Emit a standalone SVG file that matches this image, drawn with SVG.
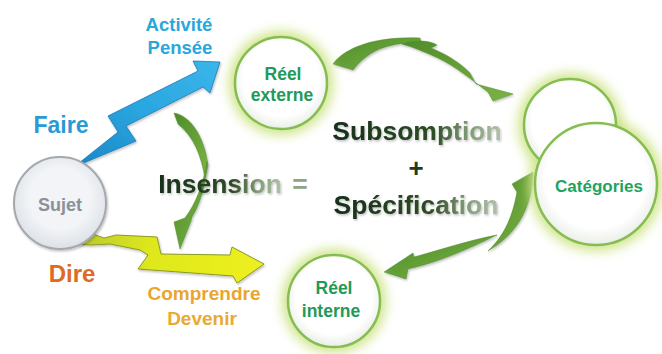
<svg xmlns="http://www.w3.org/2000/svg" width="662" height="354" viewBox="0 0 662 354">
<style>
  .lbl { font-family: "Liberation Sans", Arial, sans-serif; font-weight: bold; text-anchor: middle; }
  .ring { fill: url(#diskFill); stroke: #86bd52; stroke-width: 2.5; }
  .glow { fill: #cfe58a; filter: url(#blurBig); }
  .inCircle { fill: #1f9a58; font-size: 17.5px; }
  .big { font-size: 26.5px; fill: url(#txtGrad); filter: url(#softShadow); }
  .swoosh { fill: url(#greenGrad); stroke: #4f8a2c; stroke-width: 0.5; filter: url(#softShadow); }
</style>
<defs>
  <filter id="blurBig" x="-40%" y="-40%" width="180%" height="180%">
    <feGaussianBlur stdDeviation="6"/>
  </filter>
  <filter id="softShadow" x="-20%" y="-20%" width="140%" height="140%">
    <feDropShadow dx="1" dy="1.5" stdDeviation="1.2" flood-color="#000" flood-opacity="0.25"/>
  </filter>
  <radialGradient id="diskFill" cx="0.5" cy="0.45" r="0.55">
    <stop offset="0.75" stop-color="#ffffff"/>
    <stop offset="1" stop-color="#e9eee6"/>
  </radialGradient>
  <radialGradient id="sujetFill" cx="0.5" cy="0.45" r="0.55">
    <stop offset="0.6" stop-color="#f2f4f7"/>
    <stop offset="1" stop-color="#dde1e6"/>
  </radialGradient>
  <linearGradient id="blueGrad" x1="0" y1="1" x2="1" y2="0">
    <stop offset="0" stop-color="#1b86c4"/>
    <stop offset="0.5" stop-color="#2aa6e0"/>
    <stop offset="1" stop-color="#3bb6ea"/>
  </linearGradient>
  <linearGradient id="yellowGrad" x1="0" y1="0" x2="1" y2="0">
    <stop offset="0" stop-color="#b8c830"/>
    <stop offset="0.4" stop-color="#dfe81c"/>
    <stop offset="1" stop-color="#eef020"/>
  </linearGradient>
  <linearGradient id="greenGrad" x1="0" y1="0" x2="1" y2="1">
    <stop offset="0" stop-color="#4e8c2a"/>
    <stop offset="1" stop-color="#7cb444"/>
  </linearGradient>
  <linearGradient id="txtGrad" x1="0" y1="0" x2="1" y2="0">
    <stop offset="0" stop-color="#16301a"/>
    <stop offset="0.6" stop-color="#2e4c26"/>
    <stop offset="0.8" stop-color="#7f9a74"/>
    <stop offset="1" stop-color="#b2c2aa"/>
  </linearGradient>
</defs>

<g id="connectors">
  <!-- blue: Sujet -> Réel externe -->
  <path id="arrow-faire" d="M74,167 L136,141 L126,126 L203,87 L210,93 L220,62 L193,61 L198,71 L108,116 L118,132 Z" fill="url(#blueGrad)" stroke="#1a78b4" stroke-width="0.8" filter="url(#softShadow)"/>
  <!-- yellow: Sujet -> Réel interne -->
  <path id="arrow-dire" d="M77,244 L93,234 L104,238 L116,235 L157,237 L161,254 L230,255 L232,247 L264,264 L237,283 L233,276 L138,269 L148,255 L140,250 L110,244 L90,245 Z" fill="url(#yellowGrad)" stroke="#8a9a22" stroke-width="1" filter="url(#softShadow)"/>
  <!-- top: Réel externe -> Catégories -->
  <path class="swoosh" d="M333,64 C343,50 370,36 420,38 L421,43 C392,42 370,48 353,70 Z"/>
  <path class="swoosh" d="M402,44 C418,39 430,41 437,45 L431,48 C448,55 460,63 470,73 L476,84 L513,94 L493,101 L488,92 C472,80 455,66 438,58 C425,52 413,47 402,44 Z"/>
  <!-- bottom: Catégories -> Réel interne -->
  <path class="swoosh" d="M533,172 C532,205 520,232 488,251 C506,234 513,214 517,192 L512,184 Z"/>
  <path class="swoosh" d="M497,235 C470,240 440,250 414,257 L413,253 L384,272 L406,279 L408,269 C440,262 470,248 497,235 Z"/>
  <!-- middle: Réel externe -> Réel interne -->
  <path class="swoosh" d="M174,113 C190,116 204,135 208,165 L205,178 C201,155 194,137 178,124 Z"/>
  <path class="swoosh" d="M207,162 C206,185 200,204 192,217 L191,221 L180,249 L174,222 L185,218 C196,203 203,185 207,162 Z"/>
</g>

<g id="sujet">
  <circle cx="60" cy="203" r="46" fill="url(#sujetFill)" stroke="#a4a9ae" stroke-width="2" filter="url(#softShadow)"/>
  <text class="lbl" x="60" y="211" font-size="18" fill="#8b9097">Sujet</text>
</g>

<g id="reel-externe">
  <circle class="glow" cx="281" cy="83" r="52"/>
  <circle class="ring" cx="281" cy="83" r="46"/>
  <text class="lbl inCircle" x="283" y="80" fill="#2b8a55">Réel</text>
  <text class="lbl inCircle" x="282" y="101" fill="#2b8a55">externe</text>
</g>

<g id="reel-interne">
  <circle class="glow" cx="334" cy="301" r="52"/>
  <circle class="ring" cx="334" cy="301" r="46"/>
  <text class="lbl inCircle" x="334" y="294">Réel</text>
  <text class="lbl inCircle" x="331" y="317">interne</text>
</g>

<g id="categories">
  <circle class="glow" cx="570" cy="125" r="52"/>
  <circle class="glow" cx="596" cy="184" r="67"/>
  <circle class="ring" cx="570" cy="125" r="46"/>
  <circle class="ring" cx="596" cy="184" r="61"/>
  <text class="lbl" x="599" y="192" font-size="17" fill="#1ea35e">Catégories</text>
</g>

<g id="labels">
  <text class="lbl" x="179" y="31" font-size="18.5" fill="#2aa7db">Activité</text>
  <text class="lbl" x="180" y="54" font-size="18.5" fill="#2aa7db">Pensée</text>
  <text class="lbl" x="61" y="133" font-size="23" fill="#2a9ad6">Faire</text>
  <text class="lbl" x="72" y="282" font-size="24" fill="#e06a22">Dire</text>
  <text class="lbl" x="204" y="300" font-size="19" fill="#e8a62e">Comprendre</text>
  <text class="lbl" x="202" y="325" font-size="19" fill="#e8aa30">Devenir</text>
</g>

<g id="insension">
  <text class="lbl big" x="220" y="193">Insension</text>
  <text class="lbl" x="300" y="193" font-size="26.5" fill="#8fa586">=</text>
</g>

<g id="formula">
  <text class="lbl big" x="417" y="140">Subsomption</text>
  <text class="lbl" x="416" y="177" font-size="26" fill="#1f3a1c">+</text>
  <text class="lbl big" x="416" y="214">Spécification</text>
</g>
</svg>
